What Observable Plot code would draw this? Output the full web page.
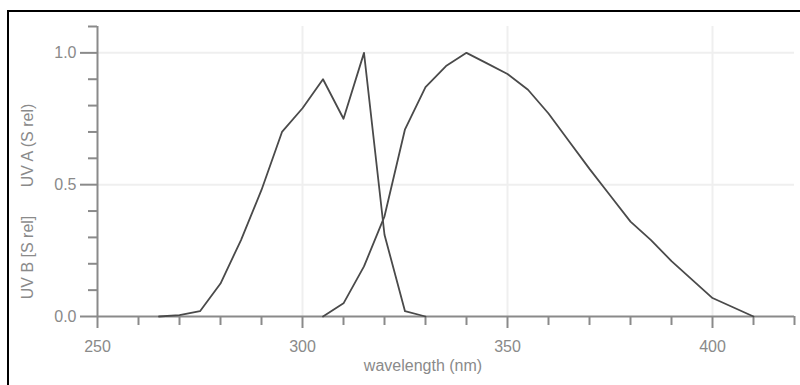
<!DOCTYPE html>
<html>
<head>
<meta charset="utf-8">
<script src="https://cdn.jsdelivr.net/npm/d3@7"></script>
<script src="https://cdn.jsdelivr.net/npm/@observablehq/plot@0.6"></script>
<style>
  html, body { margin: 0; padding: 0; background: #fff; }
  #wrap { position: relative; width: 800px; height: 385px; overflow: hidden; }
  #wrap svg { position: absolute; left: 0; top: 0; }
  #frame { position: absolute; left: 7px; top: 10px; width: 820px; height: 400px;
           border-left: 2px solid #000; border-top: 2px solid #000; pointer-events: none; }
</style>
</head>
<body>
<div id="wrap"><div id="frame"></div></div>
<script>
// UV B curve
const uvbWavelength = [265, 270, 275, 280, 285, 290, 295, 300, 305, 310, 315, 320, 325, 330];
const uvbValue      = [0, 0.005, 0.02, 0.125, 0.29, 0.48, 0.70, 0.79, 0.90, 0.75, 1.0, 0.31, 0.02, 0];
// UV A curve
const uvaWavelength = [305, 310, 315, 320, 325, 330, 335, 340, 345, 350, 355, 360, 365, 370, 375, 380, 385, 390, 395, 400, 405, 410];
const uvaValue      = [0, 0.05, 0.19, 0.38, 0.71, 0.87, 0.95, 1.0, 0.96, 0.92, 0.86, 0.77, 0.665, 0.56, 0.46, 0.36, 0.29, 0.21, 0.14, 0.07, 0.035, 0];

const xMajorTicks = [250, 300, 350, 400];
const xMinorTicks = [260, 270, 280, 290, 310, 320, 330, 340, 360, 370, 380, 390, 410, 420];
const yMajorTicks = [0, 0.5, 1.0];
const yMinorTicks = [0.1, 0.2, 0.3, 0.4, 0.6, 0.7, 0.8, 0.9, 1.1];
const xGrid = [300, 350, 400];
const yGrid = [0.5, 1.0];
const xDomain = [250, 420];
const yDomain = [0, 1.1];

const xTitle = "wavelength (nm)";
const yTitleA = "UV A (S rel)";
const yTitleB = "UV B [S rel]";

const uvb = uvbWavelength.map((w, i) => ({w, v: uvbValue[i]}));
const uva = uvaWavelength.map((w, i) => ({w, v: uvaValue[i]}));

const axisColor = "#8a8a8a";
const font = "'Liberation Sans', Arial, sans-serif";

const chart = Plot.plot({
  width: 800,
  height: 385,
  marginLeft: 97,
  marginRight: 6,
  marginTop: 26,
  marginBottom: 69,
  style: {fontFamily: font, background: "transparent", overflow: "visible"},
  x: {domain: xDomain, axis: null},
  y: {domain: yDomain, axis: null},
  marks: [
    Plot.ruleX(xGrid, {stroke: "#efefef", strokeWidth: 2}),
    Plot.ruleY(yGrid, {stroke: "#efefef", strokeWidth: 2}),
    Plot.axisX(xMajorTicks, {anchor: "bottom", tickSize: 12, tickPadding: 12, stroke: axisColor, fill: axisColor, strokeWidth: 2, fontSize: 16, label: null, tickFormat: d => String(d)}),
    Plot.axisX(xMinorTicks, {anchor: "bottom", tickSize: 9, stroke: axisColor, strokeWidth: 2, tickFormat: () => "", label: null}),
    Plot.axisY(yMajorTicks, {anchor: "left", tickSize: 17, tickPadding: 4, stroke: axisColor, fill: axisColor, strokeWidth: 2, fontSize: 16, label: null, tickFormat: d => d.toFixed(1)}),
    Plot.axisY(yMinorTicks, {anchor: "left", tickSize: 9, stroke: axisColor, strokeWidth: 2, tickFormat: () => "", label: null}),
    Plot.ruleY([0], {stroke: axisColor, strokeWidth: 2}),
    Plot.ruleX([xDomain[0]], {stroke: axisColor, strokeWidth: 2}),
    Plot.line(uvb, {x: "w", y: "v", stroke: "#4a4a4a", strokeWidth: 1.8}),
    Plot.line(uva, {x: "w", y: "v", stroke: "#4a4a4a", strokeWidth: 1.8}),
    Plot.text([xTitle], {frameAnchor: "bottom", dy: 54, dx: -23, fill: axisColor, fontSize: 16}),
    Plot.text([yTitleA], {frameAnchor: "left", textAnchor: "middle", rotate: -90, dx: -70, dy: -26, fill: axisColor, fontSize: 16}),
    Plot.text([yTitleB], {frameAnchor: "left", textAnchor: "middle", rotate: -90, dx: -70, dy: 86, fill: axisColor, fontSize: 16})
  ]
});
document.getElementById("wrap").prepend(chart);
</script>
</body>
</html>
